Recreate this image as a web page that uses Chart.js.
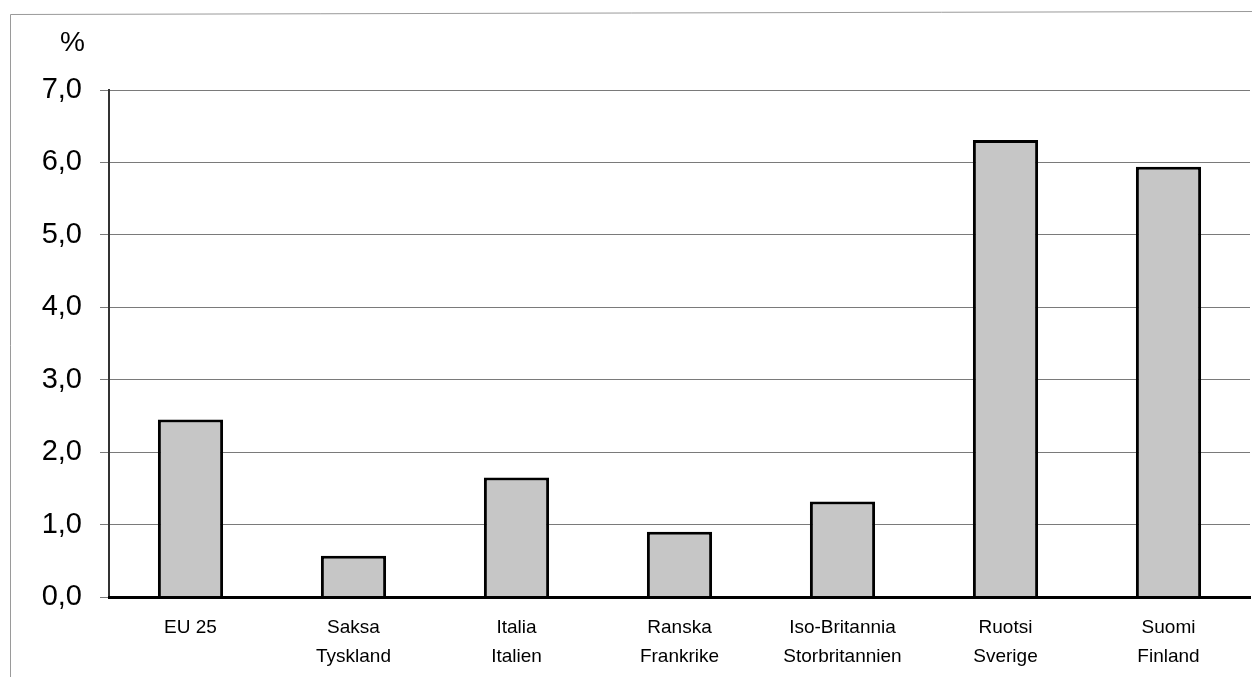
<!DOCTYPE html>
<html>
<head>
<meta charset="utf-8">
<script src="https://cdn.jsdelivr.net/npm/chart.js@4.4.1/dist/chart.umd.min.js"></script>
<style>
  html, body { margin: 0; padding: 0; background: #ffffff; }
  #wrap { width: 1252px; height: 677px; position: relative; }
</style>
</head>
<body>
<div id="wrap"><canvas id="chart" width="1252" height="677"></canvas></div>
<script>
// Category labels (Finnish / Swedish)
const categories = [
    ['EU 25'],
    ['Saksa', 'Tyskland'],
    ['Italia', 'Italien'],
    ['Ranska', 'Frankrike'],
    ['Iso-Britannia', 'Storbritannien'],
    ['Ruotsi', 'Sverige'],
    ['Suomi', 'Finland'],
];
// Values in percent
const values = [2.45, 0.57, 1.65, 0.90, 1.32, 6.31, 5.94];
const unitLabel = '%';
const yMin = 0;
const yMax = 7;
const yStep = 1;

const fontFamily = "'Liberation Sans', Arial, sans-serif";

// Draws the outer frame and the unit text above the y axis
const decorPlugin = {
    id: 'decor',
    beforeDraw(chart) {
        const ctx = chart.ctx;
        ctx.save();
        ctx.fillStyle = '#ffffff';
        ctx.fillRect(0, 0, chart.width, chart.height);
        ctx.strokeStyle = '#9a9a9a';
        ctx.lineWidth = 1;
        ctx.beginPath();
        ctx.moveTo(10.5, chart.height);
        ctx.lineTo(10.5, 14.5);
        ctx.lineTo(chart.width, 11.5);
        ctx.stroke();
        ctx.restore();
    },
    afterDraw(chart) {
        const ctx = chart.ctx;
        ctx.save();
        ctx.fillStyle = '#000000';
        ctx.font = '28px ' + fontFamily;
        ctx.textAlign = 'left';
        ctx.textBaseline = 'middle';
        ctx.fillText(unitLabel, 60, 43);
        ctx.restore();
    }
};

const ctx = document.getElementById('chart').getContext('2d');
new Chart(ctx, {
    type: 'bar',
    data: {
        labels: categories,
        datasets: [{
            data: values,
            backgroundColor: '#c6c6c6',
            borderColor: '#000000',
            borderWidth: 3,
            borderSkipped: 'bottom',
            categoryPercentage: 1.0,
            barPercentage: 0.4,
        }],
    },
    options: {
        responsive: false,
        animation: false,
        layout: {
            padding: { left: 0, top: 90, right: 2, bottom: 0 }
        },
        plugins: {
            legend: { display: false },
            tooltip: { enabled: false },
        },
        scales: {
            x: {
                grid: { display: false, drawTicks: false },
                border: { display: true, color: '#000000', width: 3, z: 1 },
                ticks: {
                    color: '#000000',
                    padding: 16,
                    maxRotation: 0,
                    autoSkip: false,
                    font: { family: fontFamily, size: 19, lineHeight: 1.55 },
                },
                afterFit(scale) { scale.height = 80; },
            },
            y: {
                min: yMin,
                max: yMax,
                ticks: {
                    stepSize: yStep,
                    color: '#000000',
                    padding: 18,
                    font: { family: fontFamily, size: 29 },
                    callback: (v) => v.toFixed(1).replace('.', ','),
                },
                grid: {
                    color: '#7a7a7a',
                    lineWidth: 1,
                    tickLength: 9,
                },
                border: { display: true, color: '#333333', width: 2 },
                afterFit(scale) { scale.width = 109; },
            },
        },
    },
    plugins: [decorPlugin],
});
</script>
</body>
</html>
